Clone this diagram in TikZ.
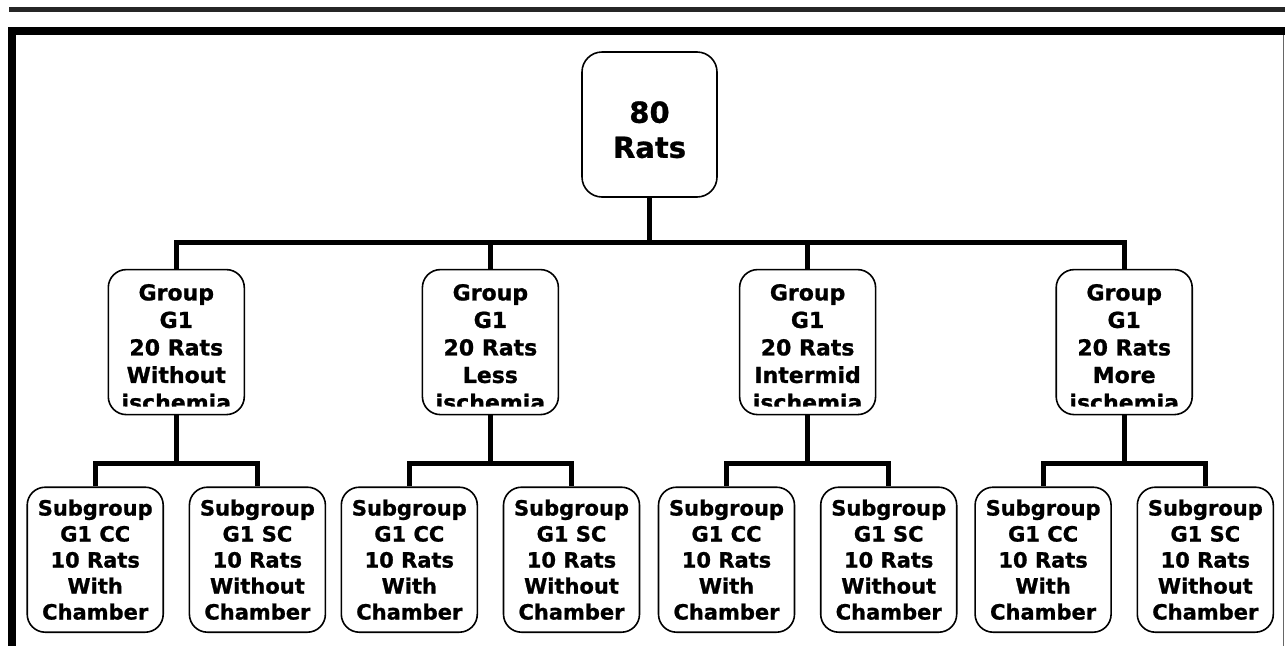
\documentclass[tikz,border=0pt]{standalone}
\usepackage{fontspec}
\setmainfont{DejaVu Sans}[BoldFeatures={FakeBold=1}]
\usetikzlibrary{positioning}

\begin{document}
\begin{tikzpicture}[
    x=1pt, y=-1pt,
    conn/.style={line width=5pt},
    rootbox/.style={draw, line width=1.6pt, rounded corners=20pt, align=center, inner sep=0pt, minimum width=135pt, minimum height=145pt, font=\fontsize{29}{35}\selectfont\bfseries},
    grp/.style={draw, line width=1.6pt, rounded corners=18pt, inner sep=0pt, minimum width=136pt, minimum height=145pt,
      path picture={
        \clip ([yshift=8pt]path picture bounding box.south west) rectangle (path picture bounding box.north east);
        \node[anchor=north, inner sep=0pt, align=center, font=\fontsize{22}{27.5}\selectfont\bfseries] at ([yshift=-4.5pt]path picture bounding box.north) {#1};}},
    sub/.style={draw, line width=1.6pt, rounded corners=18pt, align=center, inner sep=0pt, minimum width=136pt, minimum height=145pt, font=\fontsize{21}{26}\selectfont\bfseries}
  ]
    \useasboundingbox (0,0) rectangle (1285,646);
    % page rule and frame
    \fill[black!85] (9,7) rectangle (1285,12);
    \fill (8,27) rectangle (1285,35);
    \fill (8,27) rectangle (16,646);
    \draw[black!60, line width=1.5pt] (1283.5,35) -- (1283.5,646);

    \node[rootbox] (root) at (649.5,124.5) {\rule{0pt}{32pt}80\\Rats};

    \node[grp={Group\\G1\\20 Rats\\Less\\ischemia}, below left=71pt and 22pt of root] (g2) {};
    \node[grp={Group\\G1\\20 Rats\\Intermid\\ischemia}, below right=71pt and 21pt of root] (g3) {};
    \node[grp={Group\\G1\\20 Rats\\Without\\ischemia}, left=176.5pt of g2] (g1) {};
    \node[grp={Group\\G1\\20 Rats\\More\\ischemia}, right=179pt of g3] (g4) {};

    \node[sub, below left=71pt and -56.5pt of g1] (s1a) {Subgroup\\G1 CC\\10 Rats\\With\\Chamber};
    \node[sub, below right=71pt and -56.5pt of g1] (s1b) {Subgroup\\G1 SC\\10 Rats\\Without\\Chamber};
    \node[sub, below left=71pt and -56.5pt of g2] (s2a) {Subgroup\\G1 CC\\10 Rats\\With\\Chamber};
    \node[sub, below right=71pt and -56.5pt of g2] (s2b) {Subgroup\\G1 SC\\10 Rats\\Without\\Chamber};
    \node[sub, below left=71pt and -56.5pt of g3] (s3a) {Subgroup\\G1 CC\\10 Rats\\With\\Chamber};
    \node[sub, below right=71pt and -56.5pt of g3] (s3b) {Subgroup\\G1 SC\\10 Rats\\Without\\Chamber};
    \node[sub, below left=71pt and -56.5pt of g4] (s4a) {Subgroup\\G1 CC\\10 Rats\\With\\Chamber};
    \node[sub, below right=71pt and -56.5pt of g4] (s4b) {Subgroup\\G1 SC\\10 Rats\\Without\\Chamber};

    \coordinate[below=45pt of root] (bar);
    \coordinate[below=48pt of g1] (b1);
    \coordinate[below=48pt of g2] (b2);
    \coordinate[below=48pt of g3] (b3);
    \coordinate[below=48pt of g4] (b4);

    \draw[conn] (root) -- (bar);
    \draw[conn] (bar) -| (g1);
    \draw[conn] (bar) -| (g2);
    \draw[conn] (bar) -| (g3);
    \draw[conn] (bar) -| (g4);
    \draw[conn] (g1) -- (b1);
    \draw[conn] (b1) -| (s1a);
    \draw[conn] (b1) -| (s1b);
    \draw[conn] (g2) -- (b2);
    \draw[conn] (b2) -| (s2a);
    \draw[conn] (b2) -| (s2b);
    \draw[conn] (g3) -- (b3);
    \draw[conn] (b3) -| (s3a);
    \draw[conn] (b3) -| (s3b);
    \draw[conn] (g4) -- (b4);
    \draw[conn] (b4) -| (s4a);
    \draw[conn] (b4) -| (s4b);
  \end{tikzpicture}
\end{document}
